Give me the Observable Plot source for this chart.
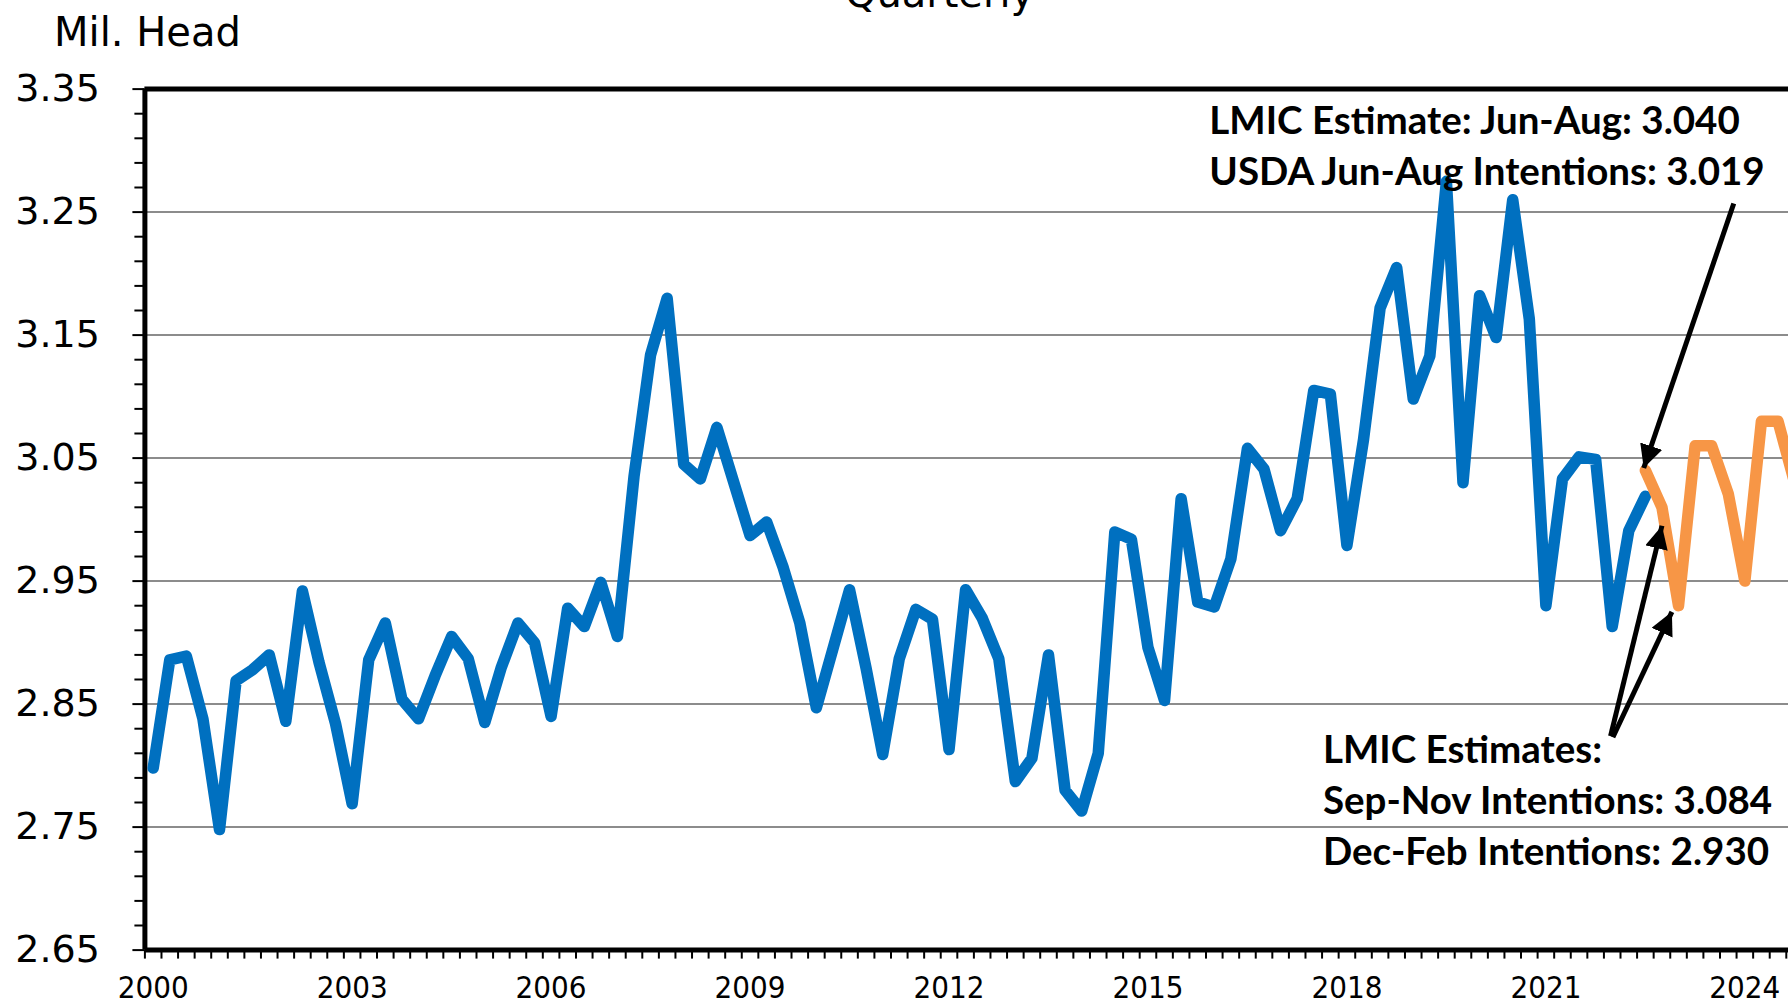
<!DOCTYPE html>
<html><head><meta charset="utf-8">
<script src="https://cdn.jsdelivr.net/npm/d3@7"></script>
<script src="https://cdn.jsdelivr.net/npm/@observablehq/plot@0.6"></script>
<style>
html,body{margin:0;padding:0;background:#fff;overflow:hidden;}
#chart svg{max-width:none !important;}
</style></head><body><div id="chart"></div>
<script>
// ---- data ----
const chartTitle = "Quarterly";
const yAxisTitle = "Mil. Head";
const firstYear = 2000;
const yearLabels = ["2000","2003","2006","2009","2012","2015","2018","2021","2024"];
// USDA quarterly series, one value per quarter starting 2000 Q1
const blueValues = [
  2.798,2.886,2.889,2.838,2.748,2.869,2.878,2.890,2.836,2.942,
  2.884,2.834,2.769,2.886,2.916,2.854,2.838,2.873,2.905,2.887,
  2.835,2.880,2.916,2.900,2.840,2.928,2.913,2.949,2.905,3.035,
  3.134,3.180,3.045,3.033,3.075,3.031,2.987,2.998,2.961,2.916,
  2.847,2.895,2.943,2.879,2.809,2.887,2.927,2.919,2.813,2.943,
  2.920,2.887,2.787,2.806,2.890,2.780,2.763,2.810,2.990,2.984,
  2.896,2.853,3.017,2.933,2.929,2.968,3.058,3.041,2.991,3.017,
  3.105,3.102,2.979,3.065,3.172,3.205,3.098,3.133,3.275,3.030,
  3.182,3.148,3.260,3.163,2.930,3.033,3.051,3.049,2.913,2.991,
  3.019
];
// LMIC estimates, starting 2022 Q3
const orangeStart = {year: 2022, quarter: 3};
const orangeValues = [3.040,3.010,2.930,3.060,3.060,3.021,2.950,3.080,3.080,3.030];
const yMajorTicks = [2.65,2.75,2.85,2.95,3.05,3.15,3.25,3.35];
const yGridLines = [2.75,2.85,2.95,3.05,3.15,3.25];
const annotationTexts = [
  "LMIC Estimate: Jun-Aug: 3.040",
  "USDA Jun-Aug Intentions: 3.019",
  "LMIC Estimates:",
  "Sep-Nov Intentions: 3.084",
  "Dec-Feb Intentions: 2.930"
];
const annotationAt = [ // [quarter index, value at baseline]
  [63.7, 3.3132],[63.7, 3.2724],[70.55, 2.8021],[70.55, 2.7607],[70.55, 2.7189]
];
const arrowSpecs = [ // [from index, from value, to index, to value]
  [95.33, 3.257, 89.9, 3.042],
  [87.9, 2.824, 91.0, 2.995],
  [88.04, 2.823, 91.6, 2.925]
];

// ---- tables ----
const blue = blueValues.map((v, k) => ({i: k, v}));
const oStart = (orangeStart.year - firstYear) * 4 + (orangeStart.quarter - 1);
const orange = orangeValues.map((v, k) => ({i: oStart + k, v}));
const yearTicks = yearLabels.map(y => ({i: (+y - firstYear) * 4, label: y}));
const lastIndex = 103;
const boundaries = d3.range(-0.5, lastIndex + 0.51, 1);
const yMinor = d3.range(0, 36).map(k => +(2.65 + k * 0.02).toFixed(2)).filter(v => !yMajorTicks.some(m => Math.abs(m - v) < 1e-6));
const annotations = annotationTexts.map((t, k) => ({text: t, i: annotationAt[k][0], v: annotationAt[k][1]}));
const arrows = arrowSpecs.map(a => ({x1: a[0], y1: a[1], x2: a[2], y2: a[3]}));

const W = 1880, H = 1004;
const plot = Plot.plot({
  width: W, height: H,
  marginLeft: 144.4, marginRight: W - 1868.7, marginTop: 88.6, marginBottom: 54.4,
  style: {color: "black", background: "white", overflow: "hidden"},
  x: {domain: [-0.5, lastIndex + 0.5]},
  y: {domain: [2.65, 3.35]},
  marks: [
    Plot.ruleY(yGridLines, {stroke: "#8c8c8c", strokeWidth: 2}),
    Plot.axisY({ticks: yMinor, tickSize: 10, tickFormat: () => "", strokeWidth: 2, label: null}),
    Plot.axisY({ticks: yMajorTicks, tickSize: 12, tickPadding: 33, tickFormat: d => d.toFixed(2),
      fontSize: 38, fontFamily: "DejaVu Sans", strokeWidth: 2, label: null}),
    Plot.axisX({ticks: boundaries, tickSize: 9, tickFormat: () => "", strokeWidth: 2, label: null}),
    Plot.axisX(yearTicks.map(d => d.i), {tickSize: 0, tickPadding: 26,
      tickFormat: i => yearTicks.find(d => d.i === i).label,
      fontSize: 31, fontFamily: "'Liberation Sans Narrow', 'DejaVu Sans Condensed', sans-serif", label: null}),
    Plot.ruleY([3.35, 2.65], {stroke: "black", strokeWidth: 5}),
    Plot.ruleX([-0.5], {stroke: "black", strokeWidth: 5}),
    Plot.line(blue, {x: "i", y: "v", stroke: "#0070C0", strokeWidth: 11.5, strokeLinejoin: "round", strokeLinecap: "round"}),
    Plot.line(orange, {x: "i", y: "v", stroke: "#F79646", strokeWidth: 11.5, strokeLinejoin: "round", strokeLinecap: "round"}),
    Plot.link(arrows, {x1: "x1", y1: "y1", x2: "x2", y2: "y2", stroke: "black", strokeWidth: 5, className: "lmic-arrows"}),
    Plot.text(annotations, {x: "i", y: "v", text: "text", textAnchor: "start", lineAnchor: "bottom",
      fontSize: 38.5, fontWeight: "bold", fontFamily: "Lato, sans-serif", fill: "black"}),
    Plot.text([yAxisTitle], {frameAnchor: "top-left", dx: -90.8, dy: -43, lineAnchor: "bottom", textAnchor: "start",
      fontSize: 40, fontFamily: "DejaVu Sans", fill: "black"}),
    Plot.text([chartTitle], {frameAnchor: "top", dx: -67.5, dy: -82.6, lineAnchor: "bottom",
      fontSize: 40, fontFamily: "DejaVu Sans", fill: "black"})
  ]
});
// filled triangular arrowheads
const svg = d3.select(plot);
const defs = svg.insert("defs", ":first-child");
defs.append("marker").attr("id", "tri-head").attr("viewBox", "0 0 10 10")
  .attr("refX", 10).attr("refY", 5).attr("markerUnits", "userSpaceOnUse")
  .attr("markerWidth", 23).attr("markerHeight", 23).attr("orient", "auto")
  .append("path").attr("d", "M0,0L10,5L0,10Z").attr("fill", "black");
svg.selectAll("g.lmic-arrows path, .lmic-arrows path").attr("marker-end", "url(#tri-head)");
document.getElementById("chart").appendChild(plot);
</script></body></html>
